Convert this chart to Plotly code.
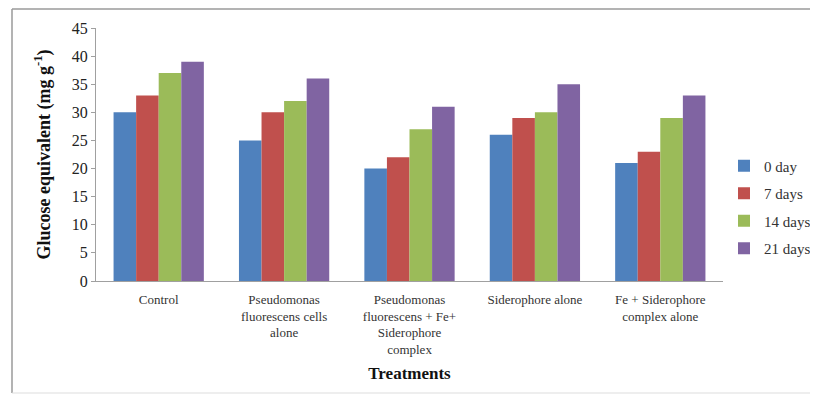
import plotly.graph_objects as go

categories = [
    "Control",
    "Pseudomonas<br>fluorescens cells<br>alone",
    "Pseudomonas<br>fluorescens + Fe+<br>Siderophore<br>complex",
    "Siderophore alone",
    "Fe + Siderophore<br>complex alone",
]
series_names = ["0 day", "7 days", "14 days", "21 days"]
day0 = [30, 25, 20, 26, 21]
day7 = [33, 30, 22, 29, 23]
day14 = [37, 32, 27, 30, 29]
day21 = [39, 36, 31, 35, 33]
colors = ["#4F81BD", "#C0504D", "#9BBB59", "#8064A2"]
y_ticks = [0, 5, 10, 15, 20, 25, 30, 35, 40, 45]

fig = go.Figure()
for i, (name, vals) in enumerate(zip(series_names, [day0, day7, day14, day21])):
    fig.add_trace(go.Bar(x=categories, y=vals, name=name, marker_color=colors[i],
                         marker_line_width=0, legendgroup=name))

serif = "Liberation Serif"
# figure is placed with the page's 8px body margin; size so the page does not overflow
W, H = 802, 386
L, T, PW, PH = 88, 20, 627, 253


def px(x):
    return (x - L) / PW


def py(y):
    return (T + PH - y) / PH


frame = dict(color="#9A9A9A", width=1.5)
fig.update_layout(
    width=W, height=H,
    margin=dict(l=L, r=W - L - PW, t=T, b=H - T - PH, autoexpand=False, pad=0),
    paper_bgcolor="white", plot_bgcolor="white",
    barmode="group", bargap=0.28, bargroupgap=0,
    font=dict(family=serif, color="#222222", size=12),
    legend=dict(x=px(716), y=py(199), yanchor="middle", xanchor="left",
                traceorder="grouped", tracegroupgap=5,
                font=dict(family=serif, size=15, color="#333333"),
                itemwidth=30, bgcolor="rgba(0,0,0,0)"),
    xaxis=dict(showline=True, linecolor="#A0A0A0", linewidth=1, ticks="", automargin=False,
               ticklabelstandoff=6,
               tickfont=dict(family=serif, size=13, color="#333333"),
               title=dict(text="<b>Treatments</b>", font=dict(family=serif, size=17, color="#111111"), standoff=10)),
    yaxis=dict(range=[0, 45], tickvals=y_ticks, showgrid=False, showline=True, automargin=False,
               linecolor="#A0A0A0", linewidth=1, ticks="outside", ticklen=4, tickcolor="#A0A0A0",
               tickfont=dict(family=serif, size=16, color="#222222"),
               title=dict(text="<b>Glucose equivalent (mg g<sup>-1</sup>)</b>",
                          font=dict(family=serif, size=18, color="#111111"), standoff=16)),
    shapes=[
        dict(type="line", xref="paper", yref="paper", x0=px(4), x1=px(4), y0=py(385), y1=py(1), line=frame),
        dict(type="line", xref="paper", yref="paper", x0=px(4), x1=px(830), y0=py(1), y1=py(1), line=frame),
        dict(type="line", xref="paper", yref="paper", x0=px(4), x1=px(830), y0=py(385), y1=py(385),
             line=dict(color="#DDDDDD", width=1)),
    ],
)
fig.write_html("out.html")
